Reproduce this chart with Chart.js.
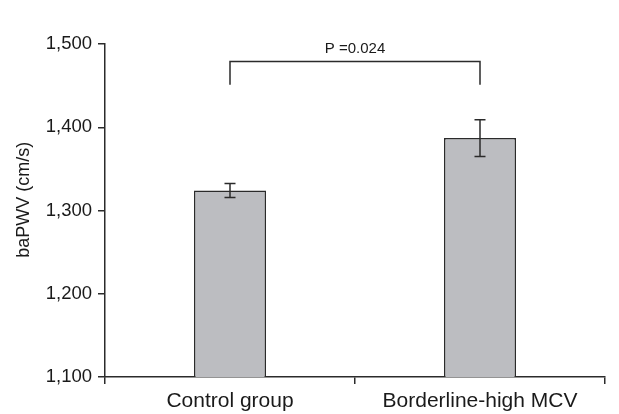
<!DOCTYPE html>
<html>
<head>
<meta charset="utf-8">
<script src="https://cdn.jsdelivr.net/npm/chart.js@4/dist/chart.umd.min.js"></script>
<style>
html,body{margin:0;padding:0;background:#fff;}
#wrap{width:619px;height:414px;position:relative;}
</style>
</head>
<body>
<div id="wrap"><canvas id="c" width="619" height="414"></canvas></div>
<script>
const categories = ["Control group", "Borderline-high MCV"];
const meanValues = [1324, 1387];
const errorValues = [8.5, 22];
const yTicks = [1100, 1200, 1300, 1400, 1500];
const yTitle = "baPWV (cm/s)";
const yTitleValue = 1313;
const pLabel = "P =0.024";
const bracketLow = 1451;
const bracketHigh = 1479;
const pLabelValue = 1494;

const INK = "#2b2b2b";
const TXT = "#1a1a1a";
const FONT = "'Liberation Sans', Arial, sans-serif";

const overlay = {
  id: "overlay",
  afterDatasetsDraw(chart) {
    const ctx = chart.ctx;
    const xs = chart.scales.x, ys = chart.scales.y;
    ctx.save();
    ctx.strokeStyle = INK;
    ctx.lineWidth = 1.5;
    meanValues.forEach((v, i) => {
      const x = xs.getPixelForValue(i);
      const yt = ys.getPixelForValue(v + errorValues[i]);
      const yb = ys.getPixelForValue(v - errorValues[i]);
      ctx.beginPath();
      ctx.moveTo(x, yt); ctx.lineTo(x, yb);
      ctx.moveTo(x - 5.5, yt); ctx.lineTo(x + 5.5, yt);
      ctx.moveTo(x - 5.5, yb); ctx.lineTo(x + 5.5, yb);
      ctx.stroke();
    });
    const x0 = xs.getPixelForValue(0), x1 = xs.getPixelForValue(1);
    const yl = ys.getPixelForValue(bracketLow), yh = ys.getPixelForValue(bracketHigh);
    ctx.beginPath();
    ctx.moveTo(x0, yl); ctx.lineTo(x0, yh); ctx.lineTo(x1, yh); ctx.lineTo(x1, yl);
    ctx.stroke();
    ctx.fillStyle = TXT;
    ctx.font = "15px " + FONT;
    ctx.textAlign = "center";
    ctx.textBaseline = "middle";
    ctx.fillText(pLabel, (x0 + x1) / 2, ys.getPixelForValue(pLabelValue));
    // y axis title
    ctx.translate(24, ys.getPixelForValue(yTitleValue));
    ctx.rotate(-Math.PI / 2);
    ctx.font = "18px " + FONT;
    ctx.fillText(yTitle, 0, 0);
    ctx.restore();
  }
};

new Chart(document.getElementById("c"), {
  type: "bar",
  data: {
    labels: categories,
    datasets: [{
      data: meanValues,
      backgroundColor: "#bcbdc1",
      borderColor: INK,
      borderWidth: 1.5,
      borderSkipped: "bottom",
      barPercentage: 0.576,
      categoryPercentage: 0.5
    }]
  },
  options: {
    responsive: false,
    animation: false,
    devicePixelRatio: 1,
    layout: { padding: { top: 44, right: 14, left: 0, bottom: 0 } },
    plugins: { legend: { display: false }, tooltip: { enabled: false } },
    scales: {
      x: {
        offset: true,
        grid: { display: true, offset: true, drawOnChartArea: false, drawTicks: true, tickLength: 7, color: INK, lineWidth: 1.5 },
        border: { display: true, color: INK, width: 1.5 },
        ticks: { color: TXT, font: { family: FONT, size: 21 }, padding: 5 },
        afterFit(s) { s.height = 37; }
      },
      y: {
        min: 1100, max: 1500,
        afterBuildTicks(s) { s.ticks = yTicks.map(v => ({ value: v })); },
        grid: { display: true, drawOnChartArea: false, drawTicks: true, tickLength: 7, color: INK, lineWidth: 1.5 },
        border: { display: true, color: INK, width: 1.5 },
        ticks: {
          color: TXT, font: { family: FONT, size: 18.5 }, padding: 6,
          callback: v => v.toLocaleString("en-US")
        },
        title: { display: false },
        afterFit(s) { s.width = 105; }
      }
    }
  },
  plugins: [overlay]
});
</script>
</body>
</html>
